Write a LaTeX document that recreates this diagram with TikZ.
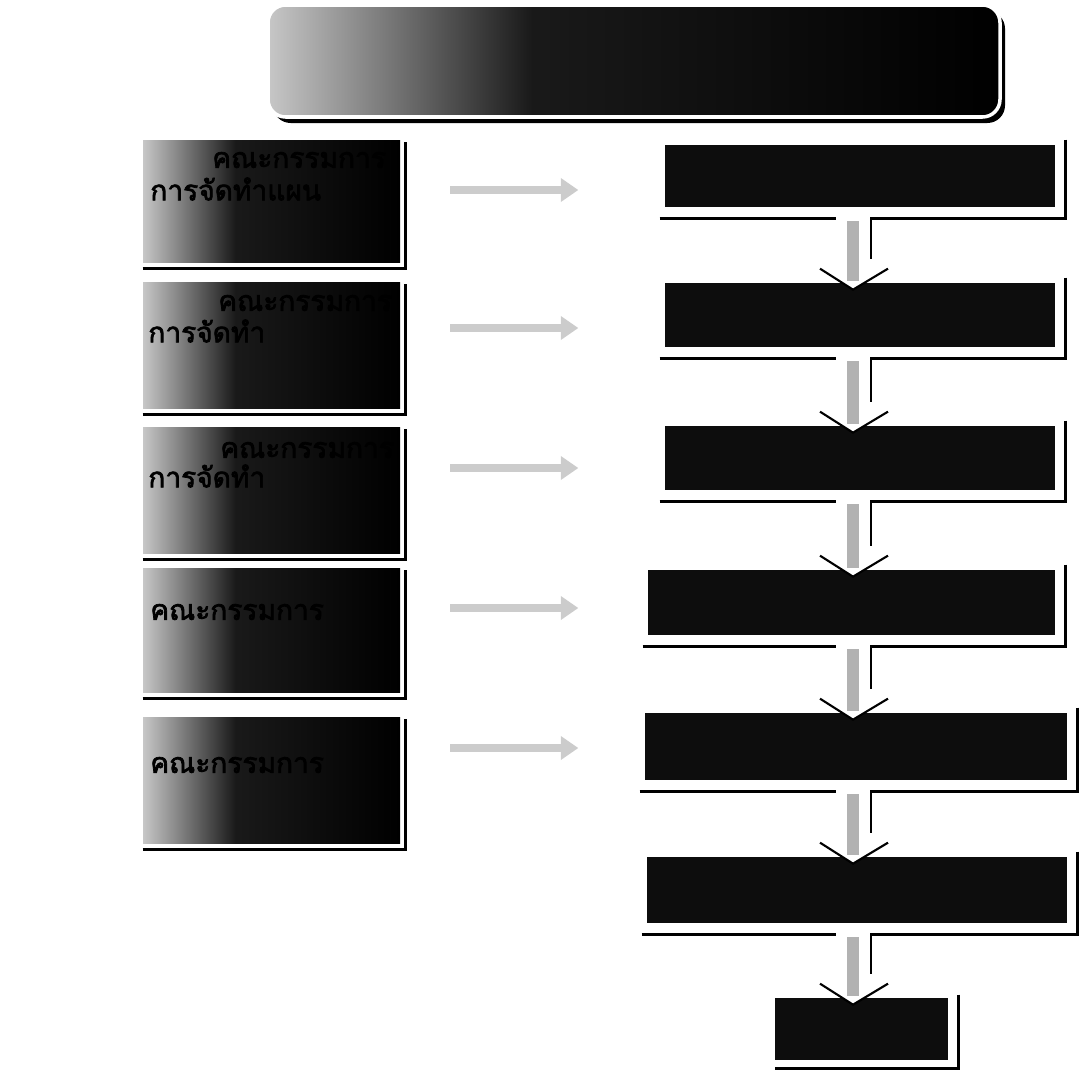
\documentclass[tikz,border=0pt]{standalone}
\usepackage{fontspec}
\newfontfamily\thaifont[Script=Thai,AutoFakeBold=2.5]{Loma}
\usetikzlibrary{fit,calc,arrows.meta}
\pgfdeclarehorizontalshading{lgrad}{100bp}{color(0bp)=(black!22); color(25bp)=(black!22); color(43bp)=(black!90); color(75bp)=(black); color(100bp)=(black)}

\begin{document}
\begin{tikzpicture}[x=0.02cm,y=-0.02cm,
	shadeline/.style={line width=1.5pt},
	lbox/.style={inner sep=0pt,shading=lgrad},
	rbox/.style={inner sep=0pt,fill=black!95},
	boxtext/.style={anchor=west,inner sep=0pt,font=\thaifont\bfseries\fontsize{16}{18}\selectfont},
	midarrow/.style={gray!40,line width=5pt,-{Triangle[length=10pt,width=13pt]}},
	shaft/.style={gray!60,line width=6.8pt},
	head/.style={fill=white,draw=black,line width=1.2pt}]
	\useasboundingbox (0,0) rectangle (1088,1072);

	\node[fit={(273,11) (1005,123)},inner sep=0pt,fill=black,rounded corners=10pt] (tshadow) {};
	\node[fit={(268,5) (1000,117)},lbox,draw=white,line width=2pt,rounded corners=10pt] (top) {};

	\node[fit={(143,140) (400,262)},lbox] (l1) {};
	\node[fit={(143,282) (400,408)},lbox] (l2) {};
	\node[fit={(143,427) (400,553)},lbox] (l3) {};
	\node[fit={(143,568) (400,692)},lbox] (l4) {};
	\node[fit={(143,717) (400,843)},lbox] (l5) {};
	\foreach \n in {l1,l2,l3,l4,l5}
		\draw[shadeline] ($(\n.south west)+(0,6)$) -- ($(\n.south east)+(5,6)$) -- ($(\n.north east)+(5,2)$);

	\node[boxtext] (t1a) at (212,160) {คณะกรรมการ};
	\node[boxtext] (t1b) at (150,189) {การจัดทำแผน};
	\node[boxtext] (t2a) at (218,303) {คณะกรรมการ};
	\node[boxtext] (t2b) at (148,331) {การจัดทำ};
	\node[boxtext] (t3a) at (220,450) {คณะกรรมการ};
	\node[boxtext] (t3b) at (148,476) {การจัดทำ};
	\node[boxtext] (t4) at (150,612) {คณะกรรมการ};
	\node[boxtext] (t5) at (150,765) {คณะกรรมการ};

	\node[fit={(665,145) (1055,207)},rbox] (r1) {};
	\node[fit={(665,283) (1055,347)},rbox] (r2) {};
	\node[fit={(665,426) (1055,490)},rbox] (r3) {};
	\node[fit={(648,570) (1055,635)},rbox] (r4) {};
	\node[fit={(645,713) (1067,780)},rbox] (r5) {};
	\node[fit={(647,857) (1067,923)},rbox] (r6) {};
	\node[fit={(775,998) (948,1060)},rbox] (r7) {};
	\coordinate (col) at (853,0);

	\draw[midarrow] ($(l1.east)+(50,-11)$) -- ++(128,0);
	\draw[midarrow] ($(l2.east)+(50,-17)$) -- ++(128,0);
	\draw[midarrow] ($(l3.east)+(50,-22)$) -- ++(128,0);
	\draw[midarrow] ($(l4.east)+(50,-22)$) -- ++(128,0);
	\draw[midarrow] ($(l5.east)+(50,-32)$) -- ++(128,0);

	\foreach \a/\b in {r1/r2,r2/r3,r3/r4,r4/r5,r5/r6,r6/r7}{
		\draw[shadeline] ($(\a.south west)+(-5,11)$) -- ($(\a.south -| col)+(-17,11)$);
		\draw[shadeline] ($(\a.north east)+(10,-5)$) -- ($(\a.south east)+(10,11)$) -- ($(\a.south -| col)+(18,11)$) -- ($(\b.north -| col)+(18,-24)$);
		\draw[head] ($(\b.north -| col)+(-33,-14)$) -- ($(\b.north -| col)+(0,7)$) -- ($(\b.north -| col)+(35,-14)$);
		\draw[shaft] ($(\a.south -| col)+(0,14)$) -- ($(\b.north -| col)+(0,-2)$);
	}
	\draw[shadeline] ($(r7.north east)+(10,-3)$) -- ($(r7.south east)+(10,8)$) -- ($(r7.south west)+(0,8)$);
\end{tikzpicture}
\end{document}
